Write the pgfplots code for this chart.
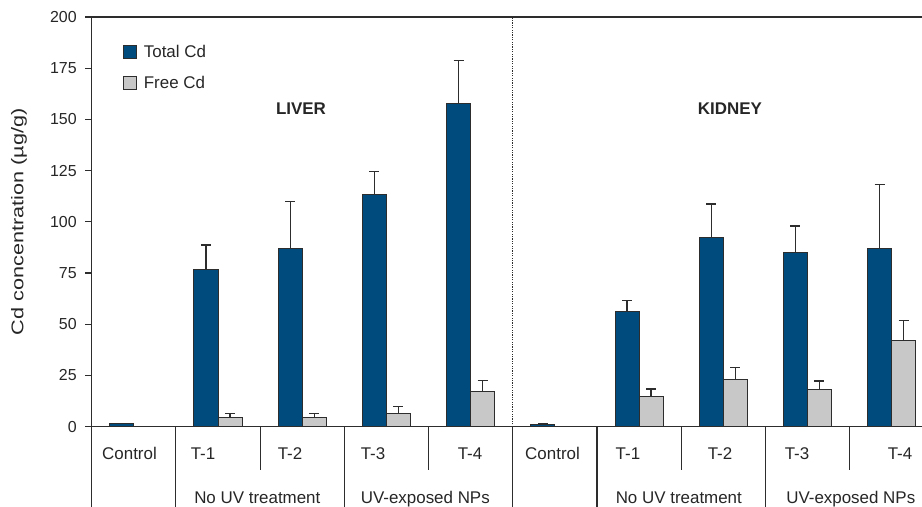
\documentclass[border=0pt]{standalone}
\usepackage{pgfplots}
\pgfplotsset{compat=1.18}
\usepackage{fontspec}
\setmainfont{Liberation Sans}
\definecolor{cdblue}{RGB}{0,75,125}
\definecolor{cdgray}{RGB}{200,200,200}
\definecolor{edge}{RGB}{45,45,45}
\newcommand{\lbl}{\fontsize{17}{17}\selectfont}
\pgfplotsset{myerr/.style={error bars/.cd, y dir=plus, y explicit,
    error bar style={line width=1.3bp, edge},
    error mark options={rotate=90, mark size=5bp, line width=1.3bp, edge}}}
\tikzset{cat/.style={font=\lbl, text=black!85, anchor=base, inner sep=0pt},
  fullline/.style={edge, line width=1.2bp}}
\begin{document}
\begin{tikzpicture}
\useasboundingbox (-91.7bp,-80.3bp) rectangle (830.3bp,426.7bp);
\begin{axis}[
  scale only axis, width=842bp, height=409.7bp,
  xmin=-0.5, xmax=9.5, ymin=0, ymax=200,
  ytick={0,25,...,200}, xtick=\empty,
  ytick pos=left, tick align=outside, major tick length=6.5bp,
  axis line style={line width=1.2bp, edge},
  every tick/.style={line width=1.2bp, edge},
  ticklabel style={font=\fontsize{16}{16}\selectfont, text=black!85},
  yticklabel style={xshift=-5bp},
  /pgf/number format/assume math mode=true,
  ylabel={\scalebox{1.28}[1]{Cd concentration (µg/g)}},
  every axis y label/.style={at={(axis description cs:-0.0863,0.5)}, anchor=center, rotate=90, font=\lbl, text=black!85},
  ybar, bar width=24bp,
  clip=false,
  legend style={at={(axis description cs:0.0368,0.931)}, anchor=north west, draw=none, fill=none, inner sep=0pt, column sep=7bp, row sep=17bp, font=\lbl, text=black!85, nodes={inner sep=0pt}},
  legend cell align=left,
  legend image code/.code={\draw[#1, draw=edge, line width=1bp] (0bp,-6.5bp) rectangle (13bp,6.5bp);},
]
\addplot[ybar, bar shift=-12bp, fill=cdblue, draw=edge, line width=1bp, myerr]
  coordinates {
  (0,1.4) +- (0,0)
  (1,76.5) +- (0,12.2)
  (2,86.9) +- (0,23.1)
  (3,113.5) +- (0,11.0)
  (4,157.6) +- (0,21.0)
  (5,1.3) +- (0,0)
  (6,56.0) +- (0,5.7)
  (7,92.3) +- (0,16.4)
  (8,84.8) +- (0,13.2)
  (9,86.9) +- (0,31.3)
  };
\addlegendentry{Total Cd}
\addplot[ybar, bar shift=12bp, fill=cdgray, draw=edge, line width=1bp, myerr]
  coordinates {
  (1,4.6) +- (0,1.9)
  (2,4.6) +- (0,1.9)
  (3,6.5) +- (0,3.5)
  (4,17.1) +- (0,5.4)
  (6,14.5) +- (0,3.9)
  (7,23.0) +- (0,5.8)
  (8,18.4) +- (0,3.9)
  (9,42.2) +- (0,9.8)
  };
\addlegendentry{Free Cd}
% separator and table lines
\draw[edge, line width=1.1bp, dash pattern=on 1.2bp off 1.2bp] (axis cs:4.5,0) -- (axis cs:4.5,200);
\draw[fullline] (axis cs:-0.5,0) -- ++(0bp,-100bp);
\draw[fullline] (axis cs:0.5,0) -- ++(0bp,-100bp);
\draw[fullline] (axis cs:2.5,0) -- ++(0bp,-100bp);
\draw[fullline] (axis cs:4.5,0) -- ++(0bp,-100bp);
\draw[fullline] (axis cs:5.5,0) -- ++(0bp,-100bp);
\draw[fullline] (axis cs:7.5,0) -- ++(0bp,-100bp);
\draw[fullline] (axis cs:1.5,0) -- ++(0bp,-43.3bp);
\draw[fullline] (axis cs:3.5,0) -- ++(0bp,-43.3bp);
\draw[fullline] (axis cs:6.5,0) -- ++(0bp,-43.3bp);
\draw[fullline] (axis cs:8.5,0) -- ++(0bp,-43.3bp);
% category labels
\node[cat] at ([yshift=-32.3bp]axis cs:-0.051,0) {Control};
\node[cat] at ([yshift=-32.3bp]axis cs:0.822,0) {T-1};
\node[cat] at ([yshift=-32.3bp]axis cs:1.855,0) {T-2};
\node[cat] at ([yshift=-32.3bp]axis cs:2.841,0) {T-3};
\node[cat] at ([yshift=-32.3bp]axis cs:3.993,0) {T-4};
\node[cat] at ([yshift=-32.3bp]axis cs:4.973,0) {Control};
\node[cat] at ([yshift=-32.3bp]axis cs:5.869,0) {T-1};
\node[cat] at ([yshift=-32.3bp]axis cs:6.962,0) {T-2};
\node[cat] at ([yshift=-32.3bp]axis cs:7.877,0) {T-3};
\node[cat] at ([yshift=-32.3bp]axis cs:9.1,0) {T-4};
\node[cat] at ([yshift=-76.6bp]axis cs:1.467,0) {No UV treatment};
\node[cat] at ([yshift=-76.6bp]axis cs:3.462,0) {UV-exposed NPs};
\node[cat] at ([yshift=-76.6bp]axis cs:6.473,0) {No UV treatment};
\node[cat] at ([yshift=-76.6bp]axis cs:8.515,0) {UV-exposed NPs};
\node[cat, font=\lbl\bfseries] at (axis cs:1.986,152.6) {LIVER};
\node[cat, font=\lbl\bfseries] at (axis cs:7.08,152.6) {KIDNEY};
\end{axis}
\end{tikzpicture}
\end{document}
